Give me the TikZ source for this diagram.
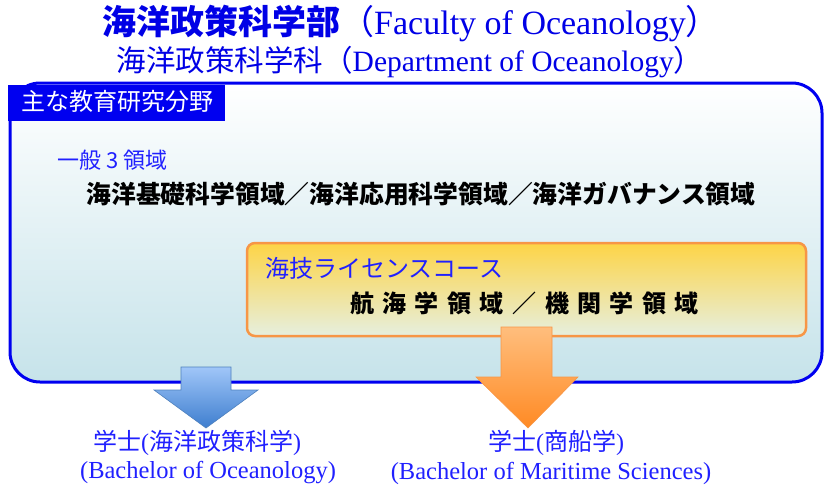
\documentclass[tikz,border=0pt]{standalone}
\usepackage{fontspec}
\setmainfont{Liberation Serif}
\newfontfamily\jp{Noto Sans CJK JP}
\definecolor{tblue}{HTML}{0000E6}
\definecolor{boxblue}{HTML}{0000F0}
\definecolor{txtblue}{HTML}{2020FF}
\definecolor{orbrd}{HTML}{F79646}
\definecolor{ortop}{HTML}{FDD446}
\definecolor{orbot}{HTML}{E6EFDF}
\definecolor{bgbot}{HTML}{C6E3EA}
\definecolor{bltop}{HTML}{A0C6F8}
\definecolor{blbot}{HTML}{3E7ECF}
\definecolor{blbrd}{HTML}{4F81BD}
\newcommand{\gsp}{\hspace{8.5pt}}
\tikzset{
  fs/.style={font=\fontsize{#1}{#1}\selectfont},
  bigbox/.style={draw=boxblue, line width=3pt, rounded corners=30pt, top color=white, bottom color=bgbot, inner sep=0pt},
  labelbox/.style={fill=boxblue, text=white, inner sep=0pt},
  licbox/.style={draw=orbrd, line width=2.5pt, rounded corners=8pt, top color=ortop, bottom color=orbot, inner sep=0pt},
  bluearrow/.style={top color=bltop, bottom color=blbot, draw=blbrd, line width=0.6pt},
  orarrow/.style={top color={rgb,255:red,255;green,190;blue,125}, bottom color={rgb,255:red,255;green,138;blue,36}, draw=orbrd, line width=0.6pt},
}
\begin{document}
\begin{tikzpicture}[x=1pt,y=-1pt]
\useasboundingbox (0,0) rectangle (824,491);
% titles
\node[fs=34, text=tblue, inner sep=0pt] (t1) at (411,23) {\jp\bfseries 海洋政策科学部\mdseries（\rmfamily Faculty of Oceanology\jp）};
\node[fs=29.5, text=tblue, inner sep=0pt] (t2) at (410,62) {\jp 海洋政策科学科（\rmfamily Department of Oceanology\jp）};
% big box
\node[bigbox, minimum width=812pt, minimum height=299pt] (big) at (416,232.5) {};
\node[labelbox, minimum width=217pt, minimum height=36pt] (lab) at (116.5,103) {};
\node[fs=24, text=white, inner sep=0pt] (labt) at (117,101) {\jp 主な教育研究分野};
% general areas
\node[fs=22, text=txtblue, anchor=west, inner sep=0pt] (gen) at (57,160) {\jp 一般\hspace{5pt}3\hspace{5pt}領域};
\node[fs=24.8, anchor=center, inner sep=0pt] (areas) at (421,194) {\jp\bfseries 海洋基礎科学領域／海洋応用科学領域／海洋ガバナンス領域};
% license course box
\node[licbox, minimum width=559pt, minimum height=93pt] (lic) at (526.5,289.5) {};
\node[fs=24, text=txtblue, anchor=west, inner sep=0pt] (lict) at (265,268) {\jp 海技ライセンスコース};
\node[fs=24, inner sep=0pt] (licareas) at (524.5,303) {\jp\bfseries 航\gsp 海\gsp 学\gsp 領\gsp 域\gsp ／\gsp 機\gsp 関\gsp 学\gsp 領\gsp 域};
% arrows
\draw[bluearrow] (181,367) -- (231,367) -- (231,390) -- (258,390) -- (206,428) -- (154,390) -- (181,390) -- cycle;
\draw[orarrow] (501,327) -- (552,327) -- (552,377) -- (578,377) -- (528,428) -- (476,377) -- (501,377) -- cycle;
% degrees
\node[fs=24, text=txtblue, inner sep=0pt] (d1) at (197,443) {\jp 学士\rmfamily(\jp 海洋政策科学\rmfamily)};
\node[fs=24.5, text=txtblue, inner sep=0pt] (d1e) at (208,473) {(Bachelor of Oceanology)};
\node[fs=24, text=txtblue, inner sep=0pt] (d2) at (556,443) {\jp 学士\rmfamily(\jp 商船学\rmfamily)};
\node[fs=24.5, text=txtblue, inner sep=0pt] (d2e) at (551,473) {(Bachelor of Maritime Sciences)};
\end{tikzpicture}
\end{document}
